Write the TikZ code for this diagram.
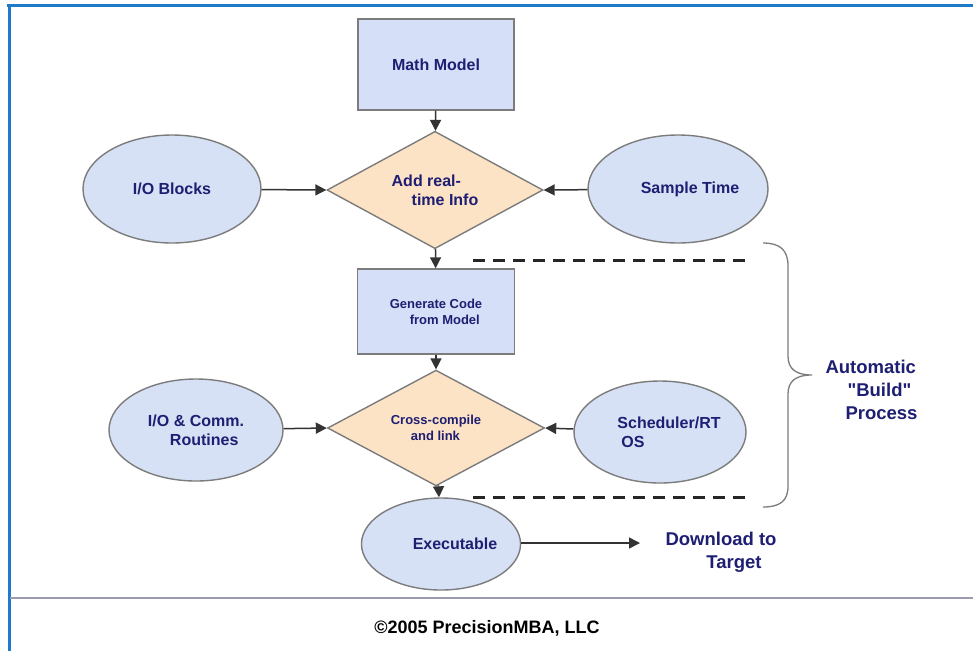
\documentclass[tikz,border=0pt]{standalone}
\usepackage{fontspec}
\setmainfont{Liberation Sans}[Ligatures=TeXOff]
\usetikzlibrary{shapes.geometric,arrows.meta}
\definecolor{navy}{HTML}{1E1E72}
\definecolor{boxblue}{HTML}{D5DFF7}
\definecolor{ellblue}{HTML}{D7E1F6}
\definecolor{peach}{HTML}{FCE3C6}
\definecolor{bordergray}{HTML}{7C7C7C}
\definecolor{frameblue}{HTML}{1F7BC9}
\definecolor{rulegray}{HTML}{9A9AB0}
\begin{document}
\begin{tikzpicture}[x=1pt,y=-1pt,
  txt/.style={text=navy, font=\bfseries\fontsize{16}{19}\selectfont},
  smalltxt/.style={text=navy, font=\bfseries\fontsize{13}{16}\selectfont},
  boxnode/.style={rectangle, draw=bordergray, line width=1.4pt, fill=boxblue, inner sep=0pt},
  ellnode/.style={ellipse, draw=bordergray, line width=1.4pt, fill=ellblue, inner sep=0pt},
  dianode/.style={diamond, draw=bordergray, line width=1.4pt, fill=peach, inner sep=0pt},
  arr/.style={draw=black!80, line width=1.5pt, -{Triangle[length=11pt,width=11pt]}},
  dashline/.style={draw=black!85, line width=3pt, dash pattern=on 12pt off 8pt},
  bigtxt/.style={text=navy, font=\bfseries\fontsize{18.5}{23}\selectfont}]
\useasboundingbox (0,0) rectangle (973,651);
\fill[white] (0,0) rectangle (973,651);
% frame
\draw[frameblue, line width=3pt] (7,5) -- (973,5);
\draw[frameblue, line width=3pt] (9,4) -- (9,651);
\draw[rulegray, line width=2pt] (10,598) -- (973,598);
% nodes
\node[boxnode, minimum width=156pt, minimum height=91pt, txt] (math) at (436,64.5) {Math Model};
\node[dianode, minimum width=216pt, minimum height=105pt, txt, align=left] (add) at (435,190) {Add real-\\\hspace*{20pt}time Info};
\node[ellnode, minimum width=178pt, minimum height=108pt, txt] (iob) at (172,189) {I/O Blocks};
\node[ellnode, minimum width=180pt, minimum height=108pt, txt] (st) at (678,189) {\hspace*{24pt}Sample Time};
\node[boxnode, minimum width=157pt, minimum height=85pt, smalltxt, align=left] (gen) at (436,311.5) {Generate Code\\\hspace*{20pt}from Model};
\node[dianode, minimum width=217pt, minimum height=90pt, smalltxt, align=left] (cc) at (436,428) {Cross-compile\\\hspace*{20pt}and link};
\node[ellnode, minimum width=174pt, minimum height=102pt, txt, align=left] (ioc) at (196,430) {I/O \& Comm.\\\hspace*{22pt}Routines};
\node[ellnode, minimum width=172pt, minimum height=102pt, txt, align=left] (sch) at (660,432) {\hspace*{18pt}Scheduler/RT\\\hspace*{22pt}OS};
\node[ellnode, minimum width=150pt, minimum height=92pt, txt] (exe) at (441,544) {\hspace*{28pt}Executable};
\node[bigtxt, align=center] (dl) at (721,552) {Download to\\\hspace*{26pt}Target};
\node[bigtxt, align=left, anchor=west] (auto) at (822,390) {Automatic\\\hspace*{22pt}"Build"\\\hspace*{20pt}Process};
\node[font=\bfseries\fontsize{18}{22}\selectfont, text=black] (copy) at (487,628) {©2005 PrecisionMBA, LLC};
% connectors
\draw[arr] (math) -- (add);
\draw[arr] (iob) -- (add.west);
\draw[arr] (st) -- (add.east);
\draw[arr] (add) -- (gen);
\draw[arr] (gen) -- (cc);
\draw[arr] (ioc) -- (cc.west);
\draw[arr] (sch) -- (cc.east);
\draw[arr] (cc) -- (exe);
\coordinate (dlend) at (640,543);
\draw[arr] (exe.east |- dlend) -- (dlend);
% dashed lines
\draw[dashline] (473,260) -- (750,260);
\draw[dashline] (473,497) -- (750,497);
% brace
\draw[bordergray, line width=1.3pt] (763,243) .. controls (780,243) and (788,250) .. (788,266) -- (788,356) .. controls (788,369) and (796,375) .. (812,375) .. controls (796,375) and (788,381) .. (788,394) -- (788,486) .. controls (788,501) and (780,507) .. (763,507);
\end{tikzpicture}
\end{document}
